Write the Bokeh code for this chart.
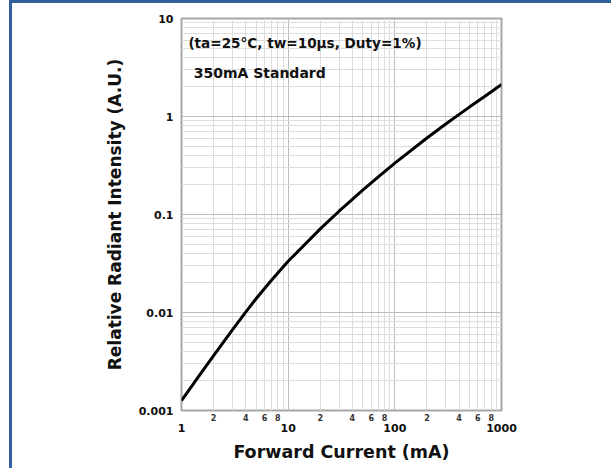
from bokeh.plotting import figure
from bokeh.models import FixedTicker, LogAxis, Label, Range1d
from bokeh.embed import file_html
from bokeh.resources import INLINE

# ---- data ----
current_ma = [1, 1.5, 2, 3, 4, 5, 7, 10, 20, 30, 50, 70, 100, 200, 300, 500, 700, 1000]
intensity = [0.00126, 0.00235, 0.00364, 0.00665, 0.0101, 0.0138, 0.0215, 0.0333,
             0.0713, 0.108, 0.177, 0.242, 0.334, 0.603, 0.838, 1.247, 1.607, 2.12]

x_major_ticks = [1, 10, 100, 1000]
x_major_labels = ["1", "10", "100", "1000"]
x_sub_ticks = [2, 4, 6, 8, 20, 40, 60, 80, 200, 400, 600, 800]
x_sub_labels = ["2", "4", "6", "8", "2", "4", "6", "8", "2", "4", "6", "8"]
y_major_ticks = [0.001, 0.01, 0.1, 1, 10]
y_major_labels = ["0.001", "0.01", "0.1", "1", "10"]

x_grid_minor = [m * 10 ** d for d in range(3) for m in range(2, 10)]
y_grid_minor = [m * 10.0 ** d for d in range(-3, 1) for m in range(2, 10)]

title_lines = ["(ta=25°C, tw=10µs, Duty=1%)", "350mA Standard"]
x_title = "Forward Current (mA)"
y_title = "Relative Radiant Intensity (A.U.)"

FONT = "DejaVu Sans"
BLUE = "#31609a"

p = figure(width=611, height=468, x_axis_type="log", y_axis_type="log",
           x_range=Range1d(1, 1000), y_range=Range1d(0.001, 10),
           output_backend="svg", toolbar_location=None,
           min_border_left=181, min_border_right=110, min_border_top=18, min_border_bottom=58)
p.styles = {
    "background": (f"linear-gradient({BLUE},{BLUE}) 9px 0px / 3px 100% no-repeat, "
                   f"linear-gradient({BLUE},{BLUE}) 9px 0px / 100% 3px no-repeat, white"),
}
p.background_fill_color = "white"
p.border_fill_alpha = 0
p.outline_line_color = "#a6a6a6"
p.outline_line_width = 2

# grids
p.xgrid.ticker = FixedTicker(ticks=x_major_ticks, minor_ticks=x_grid_minor)
p.ygrid.ticker = FixedTicker(ticks=y_major_ticks, minor_ticks=y_grid_minor)
for g in (p.xgrid, p.ygrid):
    g.grid_line_color = "#bdbdbd"
    g.grid_line_width = 1
    g.minor_grid_line_color = "#dddddd"
    g.minor_grid_line_width = 1

# near x axis: small sub-decade labels
xa = p.xaxis[0]
xa.ticker = FixedTicker(ticks=x_sub_ticks, minor_ticks=[])
xa.major_label_overrides = dict(zip(x_sub_ticks, x_sub_labels))
xa.major_tick_out = 0
xa.major_tick_in = 0
xa.minor_tick_out = 0
xa.minor_tick_in = 0
xa.axis_line_color = None
xa.major_label_standoff = 3
xa.major_label_text_font = FONT
xa.major_label_text_font_style = "bold"
xa.major_label_text_font_size = "8px"
xa.major_label_text_color = "#333333"

# outer x axis: decade labels + title
xb = LogAxis(ticker=FixedTicker(ticks=x_major_ticks, minor_ticks=[]))
xb.major_label_overrides = dict(zip(x_major_ticks, x_major_labels))
xb.major_tick_out = 0
xb.major_tick_in = 0
xb.minor_tick_out = 0
xb.minor_tick_in = 0
xb.axis_line_color = None
xb.major_label_standoff = 0
xb.major_label_text_font = FONT
xb.major_label_text_font_style = "bold"
xb.major_label_text_font_size = "11px"
xb.major_label_text_color = "#111111"
xb.axis_label = x_title
xb.axis_label_text_font = FONT
xb.axis_label_text_font_style = "bold"
xb.axis_label_text_font_size = "17.5px"
xb.axis_label_text_color = "#111111"
xb.axis_label_standoff = 7
p.add_layout(xb, "below")

# y axis
ya = p.yaxis[0]
ya.ticker = FixedTicker(ticks=y_major_ticks, minor_ticks=[])
ya.major_label_overrides = dict(zip(y_major_ticks, y_major_labels))
ya.major_tick_out = 0
ya.major_tick_in = 0
ya.minor_tick_out = 0
ya.minor_tick_in = 0
ya.axis_line_color = None
ya.major_label_standoff = 8
ya.major_label_text_font = FONT
ya.major_label_text_font_style = "bold"
ya.major_label_text_font_size = "11px"
ya.major_label_text_color = "#111111"
ya.axis_label = y_title
ya.axis_label_text_font = FONT
ya.axis_label_text_font_style = "bold"
ya.axis_label_text_font_size = "17px"
ya.axis_label_text_color = "#111111"
ya.axis_label_standoff = 11

# curve
p.line(current_ma, intensity, line_color="black", line_width=3)

# annotations
p.add_layout(Label(x=1.16, y=5.56, text=title_lines[0], text_baseline="middle",
                   text_font=FONT, text_font_style="bold", text_font_size="13.6px",
                   text_color="#111111"))
p.add_layout(Label(x=1.30, y=2.81, text=title_lines[1], text_baseline="middle",
                   text_font=FONT, text_font_style="bold", text_font_size="14px",
                   text_color="#111111"))

open("out.html", "w").write(file_html(p, INLINE))
